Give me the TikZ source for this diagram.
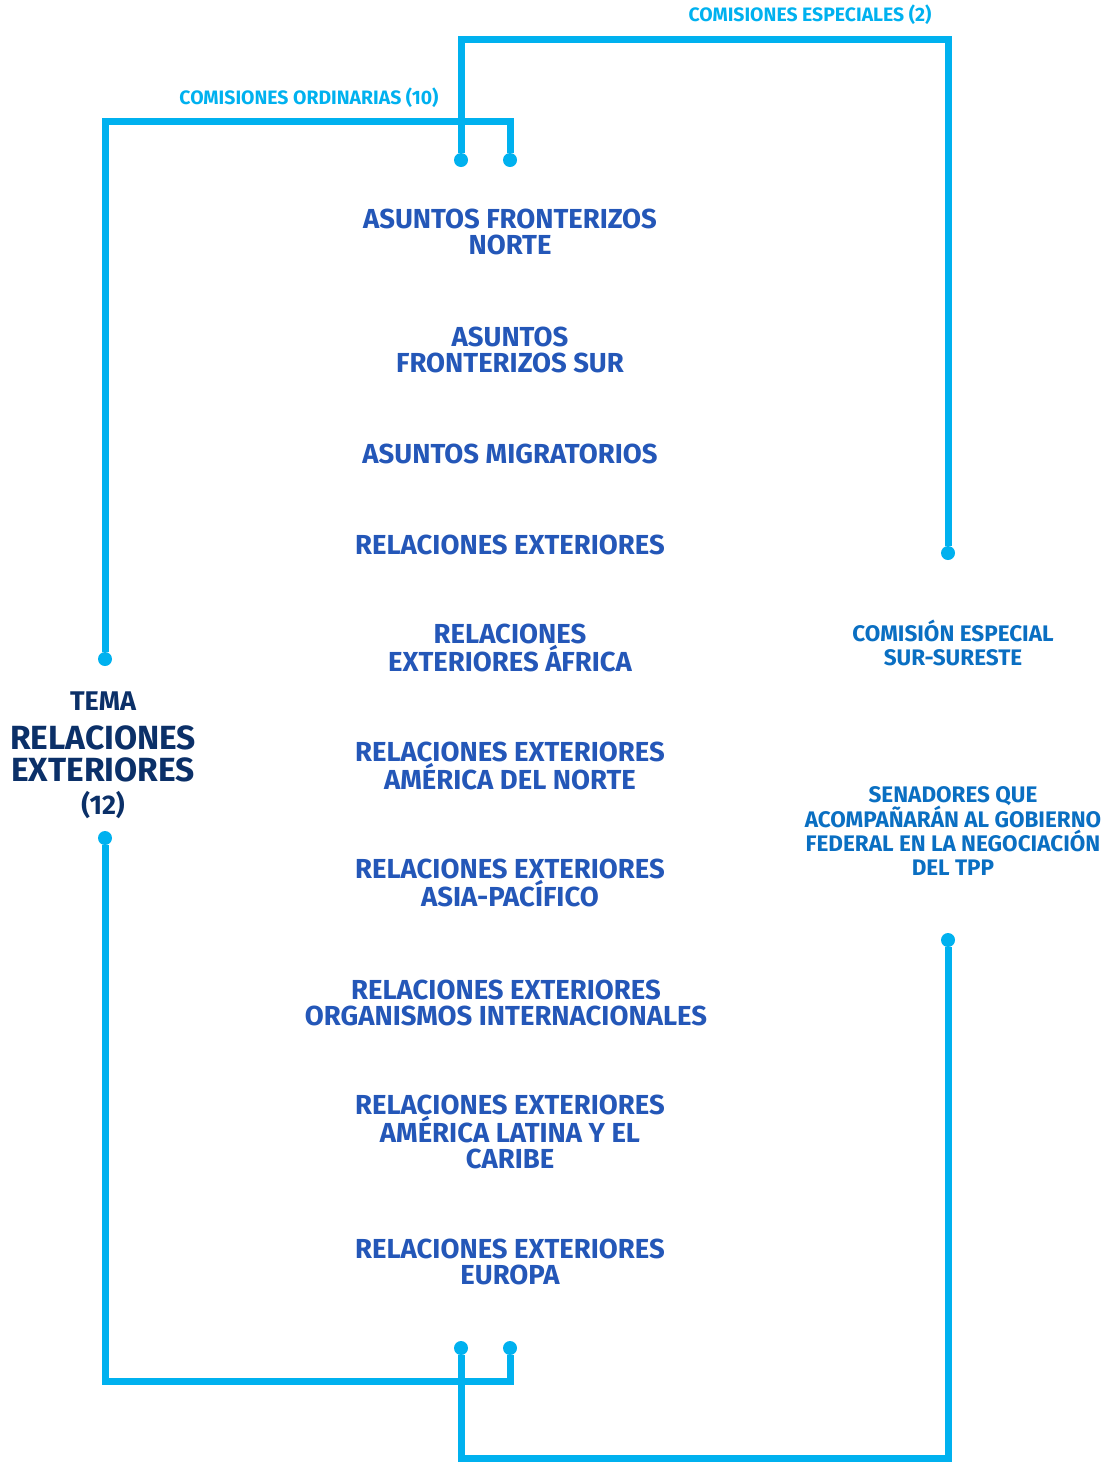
\documentclass[tikz,border=0pt]{standalone}
\usepackage{fontspec}
\setmainfont{Fira Sans}
\usepackage{xcolor}
\usetikzlibrary{calc, positioning}
\definecolor{linea}{HTML}{00B1EF}
\definecolor{azul}{HTML}{2457B8}
\definecolor{marino}{HTML}{0B3068}
\definecolor{medio}{HTML}{0A6FC2}

\begin{document}
\begin{tikzpicture}[x=1pt, y=-1pt,
  dot/.style={circle, fill=linea, inner sep=0pt, minimum size=14pt},
  conn/.style={draw=linea, line width=7pt},
  com/.style={text=azul, align=center, font=\bfseries\fontsize{27.5}{26.5}\selectfont},
  esp/.style={text=medio, align=center, font=\bfseries\fontsize{22.5}{24}\selectfont},
  hdr/.style={text=linea, font=\bfseries\fontsize{19.4}{20}\selectfont},
  tem/.style={text=marino, align=center}]
\useasboundingbox (0,0) rectangle (1105,1462);
% puntos
\node[dot] (tl) at (105,659) {};
\node[dot] (bl) at (105,838) {};
\node[dot] (o1) at (510,160) {};
\node[dot] (e1) at (461,160) {};
\node[dot] (o2) at (510,1348) {};
\node[dot] (e3) at (461,1348) {};
\node[dot] (e2) at (948,553) {};
\node[dot] (e4) at (948,940) {};
\coordinate (otop) at (0,121);
\coordinate (etop) at (0,39);
\coordinate (obot) at (0,1381);
\coordinate (ebot) at (0,1458);
% lineas
\draw[conn] (tl) |- (otop -| o1) -- (o1);
\draw[conn] (e1) |- (etop -| e2) -- (e2);
\draw[conn] (bl) |- (obot -| o2) -- (o2);
\draw[conn] (e3) |- (ebot -| e4) -- (e4);
\node[hdr] (hord) at (309,98) {COMISIONES ORDINARIAS (10)};
\node[hdr] (hesp) at (810,15) {COMISIONES ESPECIALES (2)};
% tema
\node[tem, font=\bfseries\fontsize{27}{28}\selectfont] (tema) at (103,701) {TEMA};
\node[tem, font=\bfseries\fontsize{33.5}{32}\selectfont] (trex) at (103,754) {RELACIONES\\EXTERIORES};
\node[tem, font=\bfseries\fontsize{27}{28}\selectfont] (tnum) at (103,805) {(12)};
% comisiones ordinarias
\node[com] (asfn) at (510,232) {ASUNTOS FRONTERIZOS\\NORTE};
\node[com] (asfs) at (510,350) {ASUNTOS\\FRONTERIZOS SUR};
\node[com] (amig) at (510,454) {ASUNTOS MIGRATORIOS};
\node[com] (rext) at (510,545) {RELACIONES EXTERIORES};
\node[com] (reaf) at (510,648) {RELACIONES\\EXTERIORES ÁFRICA};
\node[com] (rean) at (510,766) {RELACIONES EXTERIORES\\AMÉRICA DEL NORTE};
\node[com] (reap) at (510,883) {RELACIONES EXTERIORES\\ASIA-PACÍFICO};
\node[com] (reoi) at (506,1003) {RELACIONES EXTERIORES\\ORGANISMOS INTERNACIONALES};
\node[com] (real) at (510,1132) {RELACIONES EXTERIORES\\AMÉRICA LATINA Y EL\\CARIBE};
\node[com] (reeu) at (510,1262) {RELACIONES EXTERIORES\\EUROPA};
% comisiones especiales
\node[esp] (cess) at (953,643) {COMISIÓN ESPECIAL\\SUR-SURESTE};
\node[esp] (stpp) at (953,831) {SENADORES QUE\\ACOMPAÑARÁN AL GOBIERNO\\FEDERAL EN LA NEGOCIACIÓN\\DEL TPP};
\end{tikzpicture}
\end{document}
